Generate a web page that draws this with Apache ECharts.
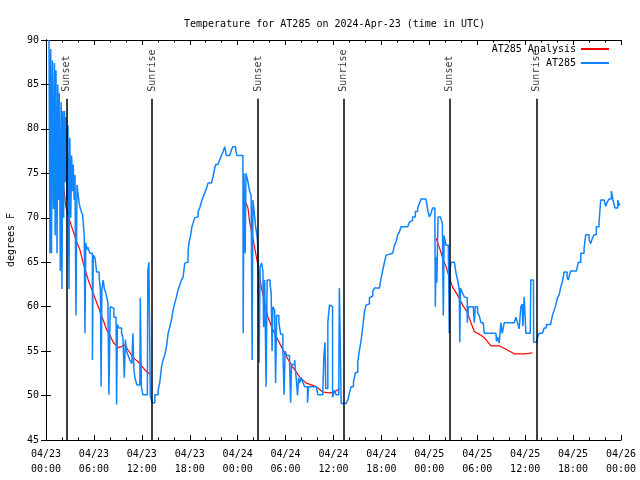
<!DOCTYPE html>
<html><head><meta charset="utf-8">
<script src="https://cdn.jsdelivr.net/npm/echarts@6/dist/echarts.min.js"></script>
<style>html,body{margin:0;padding:0;background:#fff}#c{width:640px;height:480px}</style>
</head><body><div id="c"></div>
<script>
// hours since 2024-04-23 00:00 UTC
const blueHours = [0.38,0.5,0.59,0.69,0.81,0.94,1.06,1.15,1.25,1.38,1.48,1.56,1.66,1.79,1.9,2.0,2.1,2.21,2.31,2.41,2.5,2.63,2.75,2.88,2.98,3.1,3.21,3.31,3.41,3.53,3.63,3.75,3.88,4.04,4.16,4.34,4.59,4.79,4.88,4.98,5.09,5.25,5.5,5.81,5.91,6.13,6.34,6.66,6.81,6.9,7.0,7.16,7.31,7.5,7.75,7.88,8.04,8.13,8.5,8.78,8.84,8.94,9.13,9.46,9.63,9.81,9.94,10.06,10.25,10.5,10.75,10.88,11.0,11.13,11.38,11.75,11.81,11.94,12.13,12.69,12.75,12.88,13.06,13.19,13.29,
13.63,14.04,14.25,14.46,14.66,14.88,15.09,15.29,15.5,15.71,15.91,16.13,16.34,16.54,16.75,16.96,17.16,17.38,17.59,17.79,17.91,18.09,18.25,18.41,18.63,18.84,19.04,19.25,19.46,19.66,19.88,20.09,20.29,20.71,20.91,21.13,21.25,21.54,21.75,21.96,22.16,22.38,22.59,23.0,23.21,23.38,23.56,23.75,23.91,24.66,
24.69,24.79,24.94,25.04,25.25,25.5,25.69,25.81,25.91,26.13,26.25,26.46,26.56,26.69,26.81,27.0,27.16,27.25,27.38,27.56,27.69,27.88,28.06,28.19,28.31,28.41,28.63,28.75,28.88,29.16,29.38,29.66,29.81,29.94,30.13,30.5,30.63,30.75,31.13,31.34,31.5,31.63,31.75,31.94,32.13,32.38,32.75,32.88,33.84,34.04,34.66,34.79,34.94,35.03,35.13,35.29,35.5,35.71,35.88,36.13,36.31,36.66,36.73,36.79,36.85,36.96,37.59,
37.79,38.0,38.21,38.5,38.75,39.04,39.25,39.46,39.66,39.88,40.09,40.29,40.5,40.71,40.91,41.13,41.75,41.96,42.16,42.38,42.59,42.75,43.41,43.63,43.84,44.04,44.25,44.46,45.29,45.5,45.71,45.91,46.25,46.54,46.75,46.96,47.59,47.79,48.0,48.21,48.41,48.69,
48.75,48.84,48.94,49.09,49.38,49.63,49.75,49.85,50.09,50.38,50.5,50.59,50.71,51.13,51.34,51.54,51.75,51.81,51.9,52.13,52.38,52.63,52.75,52.91,53.5,53.63,53.75,54.04,54.25,54.46,54.75,54.88,56.34,56.41,56.54,56.75,56.96,57.13,57.38,58.63,58.84,59.04,59.25,59.46,59.63,59.71,59.88,60.09,60.63,60.71,61.04,61.06,61.41,
61.54,61.75,62.16,62.38,62.66,63.19,63.41,63.63,63.84,64.04,64.25,64.46,64.66,64.88,65.09,65.25,65.41,65.56,65.71,66.41,66.66,66.96,67.38,67.59,67.81,68.0,68.21,68.41,68.63,68.91,69.25,69.46,69.88,70.09,70.29,70.5,70.79,71.0,71.25,71.44,71.59,71.75,71.88];
const blueTemps = [90,66,89,66,87.7,71,87.4,68,86.6,66,85,72,84,64,83,62,82,70,82,74,81.3,72,80.4,62,79,70,77,73,76,72,74.8,59,73.7,72.5,71.6,70.9,70.3,68,57,67.2,66.4,66.7,66,54,65.8,65.5,63.9,63.3,61.9,51,62,63,62,61.5,60.5,50.1,60,59.8,58.8,58,49,58,57.6,57,56.5,52,56.3,55.1,54.6,54,53.6,57,53,52,51.2,51,61,51,50.1,50.1,64,65,50,49.8,49.2,
50.1,50.6,51.5,53.2,54,54.6,55.5,57,57.7,58.5,59.6,60.4,61.1,61.9,62.4,63,63.3,64.9,65,66.2,67.2,67.9,68.9,69.4,70,70.1,70.7,71.1,71.8,72.3,72.8,73.3,73.9,74,74.6,75.6,76,76,76.5,77,77.4,78,77,77.2,77.6,78,78,77.6,77,77,
57,75,66,75,74.2,73,72.5,54,72,70.1,69,67.7,66,53.7,64.5,64.9,64,57.7,63,51,63,63,62.5,61.6,55,60,59.6,51.4,59,58.2,56.9,55.1,50.1,55,54.5,53.7,49.2,53.5,54,51.8,50,52,51.4,52,51.6,51,49.2,51,51,50.1,50.1,54.4,56,50.8,50.8,58.2,60.2,60,49.8,50.6,50.1,50.1,62.1,62.1,55.7,49.1,49.1,
49.5,50.3,51,51.5,52.6,53.8,55.1,56.2,57.7,59.4,60.2,60.3,61,61.2,61.7,62.1,62.1,63.2,64.1,65,65.8,66,66,66.9,67.3,68.1,68.4,69,69,69.5,69.7,70.1,70.7,71.1,71.6,72.1,72.1,70.9,70.1,70.5,71.1,71.1,
60,65.6,62.7,70.1,70,69.4,59,68,66.9,66.5,57,64.1,65,65,63.8,63,61.9,56,62.1,61.6,61.1,61,58.2,60,60,58.2,60,59.3,59,58.2,58.2,57,57,56.1,56.6,55.9,58.2,57,58.2,58.2,58.8,58.2,57.5,60,60.3,57.8,61.1,57,57,63,63,56,56,
56.5,57,57,57.6,58,58,59,59.6,60.2,61,61.3,62.2,62.8,63.9,63.9,63.3,63,63.6,64,64,65,66,66.6,68.1,68.1,67.5,67.1,67.7,68.1,69,69.5,72,72,71.3,71.8,72.1,73,72,71.1,71.1,72,71.4,71.6];

// analysis curve, null = gap between nights
const redHours = [0.5,0.88,1.13,1.38,1.75,2.16,2.5,2.75,3.21,3.84,4.25,4.66,5.29,5.91,6.54,7.16,7.59,8.0,8.41,9.04,9.46,9.88,10.29,10.91,11.75,12.38,13.0,null,
24.75,25.29,25.5,25.91,26.34,26.66,26.96,27.38,27.79,28.41,29.25,30.09,30.91,31.75,32.59,33.84,34.66,35.5,36.13,36.75,null,
48.84,49.25,49.66,50.09,50.5,50.91,51.54,52.16,52.79,53.21,53.63,54.46,55.09,55.71,56.75,57.59,58.63,60.09,60.91];
const redTemps = [80.2,79.8,78.2,77,75.5,73.9,71.2,70.3,69,67.3,66.4,64.9,63,61.5,60,58.5,57.4,56.8,56,55.4,55.5,55.7,55.1,54.3,53.6,52.9,52.4,null,
72.3,71.1,69.5,67.7,65.6,64.1,62.2,60.4,58.8,57.4,55.9,54.4,53.2,52.1,51.4,51,50.4,50.3,50.4,50.8,null,
67.7,66.7,65.5,64.5,63.3,62.2,61.3,60.2,59.3,58.2,57.2,56.8,56.3,55.6,55.6,55.2,54.7,54.7,54.8];

const sunHours = [2.54,13.29,26.56,37.29,50.54,61.41];
const sunLabels = ['Sunset','Sunrise','Sunset','Sunrise','Sunset','Sunrise'];
const sunLineTop = 83.4;

const xTickStep = 6;
const FONT = '"DejaVu Sans Mono", "Liberation Mono", monospace';
const txt = {fontFamily: FONT, fontSize: 10, color: '#000'};

function xLabel(h) {
  const d = 23 + Math.floor(h / 24);
  const hh = h % 24;
  return '04/' + d + '\n' + String(hh).padStart(2, '0') + ':00';
}

const blueData = blueHours.map((h, i) => [h, blueTemps[i]]);
const redData = redHours.map((h, i) => h === null ? [(redHours[i-1] + redHours[i+1]) / 2, '-'] : [h, redTemps[i]]);

const axisLineStyle = {color: '#000', width: 1};
const chart = echarts.init(document.getElementById('c'), null, {renderer: 'canvas'});
chart.setOption({
  animation: false,
  backgroundColor: '#fff',
  title: {text: 'Temperature for AT285 on 2024-Apr-23 (time in UTC)', left: 179, top: 14,
    textStyle: Object.assign({fontWeight: 'normal'}, txt)},
  legend: {
    orient: 'vertical', right: 26, top: 39, align: 'right',
    itemWidth: 28, itemHeight: 2, itemGap: 4, icon: 'rect',
    textStyle: txt, data: ['AT285 Analysis', 'AT285']
  },
  grid: {left: 46, right: 19, top: 40, bottom: 40, outerBoundsMode: 'none'},
  xAxis: [{
    type: 'value', min: 0, max: 72, interval: xTickStep,
    axisLine: {lineStyle: axisLineStyle},
    axisTick: {inside: true, length: 5, lineStyle: axisLineStyle},
    minorTick: {show: true, splitNumber: 3, length: 2.5, lineStyle: axisLineStyle},
    splitLine: {show: false},
    axisLabel: Object.assign({formatter: xLabel, margin: 7, lineHeight: 15, showMinLabel: true, showMaxLabel: true, hideOverlap: false}, txt)
  }, {
    type: 'value', position: 'top', min: 0, max: 72, interval: xTickStep,
    axisLine: {lineStyle: axisLineStyle},
    axisTick: {inside: true, length: 5, lineStyle: axisLineStyle},
    minorTick: {show: true, splitNumber: 3, length: 2.5, lineStyle: axisLineStyle},
    splitLine: {show: false}, axisLabel: {show: false}
  }],
  yAxis: [{
    type: 'value', min: 45, max: 90, interval: 5,
    name: 'degrees F', nameLocation: 'middle', nameGap: 30, nameTextStyle: txt,
    axisLine: {lineStyle: axisLineStyle},
    axisTick: {inside: true, length: 5, lineStyle: axisLineStyle},
    splitLine: {show: false},
    axisLabel: Object.assign({margin: 7}, txt)
  }, {
    type: 'value', position: 'right', min: 45, max: 90, interval: 5,
    axisLine: {show: true, lineStyle: axisLineStyle},
    axisTick: {show: true, inside: true, length: 5, lineStyle: axisLineStyle},
    splitLine: {show: false}, axisLabel: {show: false}
  }],
  series: [{
    name: 'AT285 Analysis', type: 'line', data: redData, showSymbol: false, connectNulls: false,
    lineStyle: {color: '#ff0000', width: 1.2}, itemStyle: {color: '#ff0000'}, z: 2
  }, {
    name: 'AT285', type: 'line', data: blueData, step: 'end', showSymbol: false,
    lineStyle: {color: '#0f84fb', width: 1.5}, itemStyle: {color: '#0f84fb'}, z: 3
  }, {
    name: 'sun', type: 'line', data: [], silent: true, z: 4,
    markLine: {
      silent: true, symbol: 'none', animation: false,
      label: {show: false},
      lineStyle: {color: '#000', width: 1.5, type: 'solid'},
      data: sunHours.map(h => [{coord: [h, sunLineTop]}, {coord: [h, 45]}])
    }
  }, {
    name: 'sunlabels', type: 'scatter', symbolSize: 0, silent: true, z: 5,
    data: sunHours.map((h, i) => ({value: [h, sunLineTop], name: sunLabels[i]})),
    label: Object.assign({show: true, formatter: p => p.name, position: 'top', distance: 7,
      rotate: 90, align: 'left', verticalAlign: 'middle'}, txt)
  }]
});
</script></body></html>
